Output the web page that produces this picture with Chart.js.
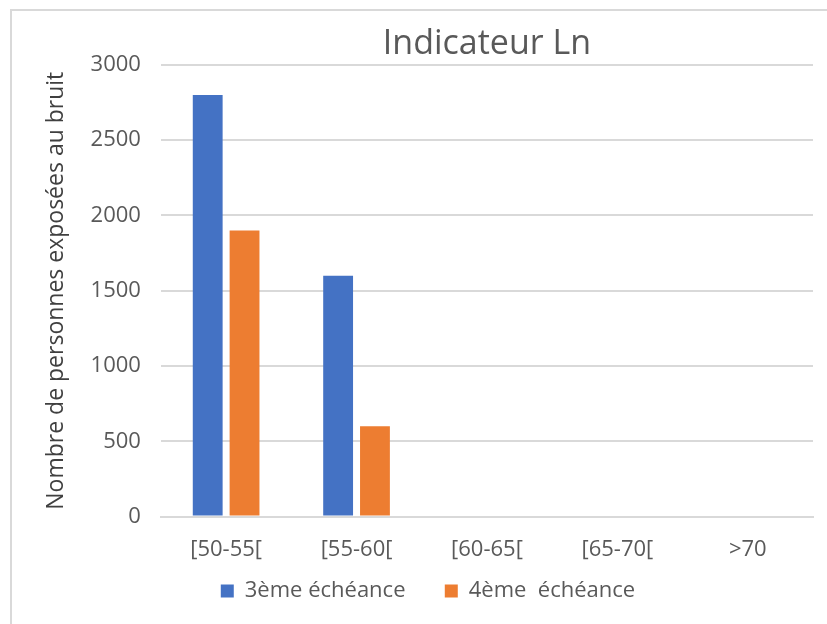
<!DOCTYPE html>
<html lang="fr">
<head>
  <meta charset="UTF-8" />
  <title>Indicateur Ln</title>
  <script src="https://cdn.jsdelivr.net/npm/chart.js"></script>
  <style>
    body { margin: 0; background: #fff; }
    #frame { position: absolute; left: 10px; top: 9px; width: 817px; height: 615px;
             border-left: 2px solid #d9d9d9; border-top: 2px solid #d9d9d9; box-sizing: border-box; }
    #wrap { position: absolute; left: 0; top: 0; width: 827px; height: 624px; }
  </style>
</head>
<body>
  <div id="frame"></div>
  <div id="wrap"><canvas id="lnChart" width="827" height="624"></canvas></div>

  <script>
    const categories = ['[50-55[', '[55-60[', '[60-65[', '[65-70[', '>70'];
    const serie3 = [2800, 1600, 0, 0, 0];
    const serie4 = [1900, 600, 0, 0, 0];
    const seriesNames = ['3ème échéance', '4ème  échéance'];

    const font = "'Open Sans', sans-serif";
    const grey = '#595959';

    new Chart(document.getElementById('lnChart'), {
      type: 'bar',
      data: {
        labels: categories,
        datasets: [
          { label: seriesNames[0], data: serie3, backgroundColor: '#4472C4',
            categoryPercentage: 0.565, barPercentage: 0.81 },
          { label: seriesNames[1], data: serie4, backgroundColor: '#ED7D31',
            categoryPercentage: 0.565, barPercentage: 0.81 }
        ]
      },
      options: {
        responsive: false,
        animation: false,
        layout: { padding: { left: 43, right: 14, top: 24, bottom: 12 } },
        plugins: {
          title: {
            display: true, text: 'Indicateur Ln', fullSize: false, color: grey,
            font: { family: font, size: 34, weight: 'normal' },
            padding: { top: 0, bottom: 0 }
          },
          legend: {
            position: 'bottom',
            labels: {
              color: grey, boxWidth: 13, boxHeight: 13, padding: 5,
              font: { family: font, size: 22 },
              // extra spacing between the two legend entries
              generateLabels: chart => Chart.defaults.plugins.legend.labels.generateLabels(chart)
                .map((l, i) => i === 0 ? { ...l, text: l.text + '      ' } : l)
            }
          },
          tooltip: { enabled: false }
        },
        scales: {
          x: {
            grid: { display: false },
            border: { color: '#d9d9d9', width: 2 },
            ticks: { color: grey, font: { family: font, size: 22 }, padding: 12 }
          },
          y: {
            min: 0, max: 3000,
            ticks: { stepSize: 500, color: grey, font: { family: font, size: 22 }, padding: 20,
                     callback: v => String(v) },
            grid: { color: '#d9d9d9', lineWidth: 2, drawTicks: false },
            border: { display: false },
            title: {
              display: true, text: 'Nombre de personnes exposées au bruit', color: '#404040',
              font: { family: font, size: 23 }, padding: { top: 0, bottom: 0 }
            }
          }
        }
      }
    });
  </script>
</body>
</html>
